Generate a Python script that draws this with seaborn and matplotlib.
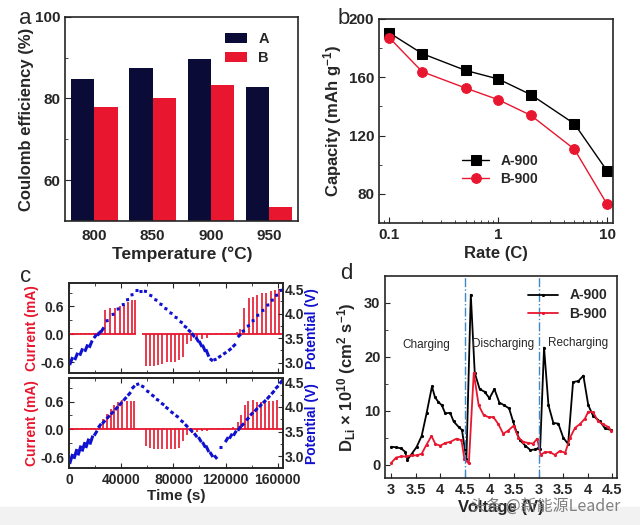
import numpy as np
import pandas as pd
import matplotlib
matplotlib.use("Agg")
import matplotlib.pyplot as plt
import seaborn as sns
from matplotlib.ticker import MultipleLocator, FixedLocator

sns.set_style("ticks")
plt.rcParams["font.family"] = ["Liberation Sans", "DejaVu Sans"]
plt.rcParams["font.weight"] = "bold"
plt.rcParams["axes.labelweight"] = "bold"
plt.rcParams["mathtext.default"] = "regular"
plt.rcParams["axes.linewidth"] = 1.2
plt.rcParams["xtick.direction"] = "in"
plt.rcParams["ytick.direction"] = "in"

NAVY = "#0b0b38"
RED = "#e8162e"
BLUE = "#1010d0"

# ---- panel a: coulomb efficiency ----
temps = ["800", "850", "900", "950"]
ce_A = [84.7, 87.5, 89.7, 82.7]
ce_B = [78.0, 80.0, 83.3, 53.5]

# ---- panel b: rate capability ----
rates = [0.1, 0.2, 0.5, 1, 2, 5, 10]
cap_A = [190.4, 176.2, 164.7, 158.8, 148.0, 128.1, 95.8]
cap_B = [187.0, 163.8, 152.6, 144.6, 133.8, 110.7, 72.9]

# ---- panel c: current pulses and potential steps ----
top_pulse_t = [2600, 5900, 9000, 12100, 15500, 19400, 21900, 24500,
               27900, 31500, 35300, 38700, 41800, 45200, 48200, 50800,
               59000, 62100, 65200, 68500, 71500, 74900, 78200, 81300, 84300, 87200,
               90400, 93500, 97900, 101700, 105500, 109000, 113000, 117000, 121000, 125000,
               128500, 131000, 134200, 138000, 141100, 144500, 147800, 151400, 154800, 157900, 161300]
top_pulse_i = [0.02, 0.02, 0.02, 0.02, 0.02, 0.03, 0.05, 0.1,
               0.53, 0.56, 0.56, 0.6, 0.63, 0.7, 0.73, 0.75,
               -0.68, -0.68, -0.68, -0.66, -0.64, -0.6, -0.6, -0.6, -0.56, -0.49,
               -0.2, -0.15, -0.12, -0.1, -0.08, -0.02, 0.02, 0.02, 0.02, 0.02,
               0.05, 0.12, 0.56, 0.78, 0.81, 0.85, 0.88, 0.9, 0.93, 0.95, 0.97]
top_base = [(0, 51600), (56200, 164000)]
top_dash_t = [400, 4300, 8100, 12000, 15400, 19000, 21800, 24400, 28000, 32600,
              36500, 40400, 43700, 47100, 50200, 53800, 57400, 61500, 65400, 69300,
              73100, 77000, 80900, 84800, 88100, 91200, 94000, 97100, 99700, 102300,
              104900, 108000, 110800, 114400, 118300, 122200, 125500, 129400, 132500, 136400,
              140000, 143600, 147500, 151300, 154700, 158000, 161600]
top_dash_v0 = [2.95, 3.05, 3.14, 3.22, 3.30, 3.50, 3.55, 3.62, 3.85, 3.98,
               4.09, 4.18, 4.28, 4.38, 4.48, 4.47, 4.46, 4.38, 4.29, 4.20,
               4.11, 4.02, 3.93, 3.84, 3.75, 3.67, 3.60, 3.52, 3.44, 3.36,
               3.27, 3.08, 3.05, 3.10, 3.17, 3.24, 3.32, 3.52, 3.63, 3.74,
               3.85, 3.96, 4.06, 4.17, 4.27, 4.37, 4.47]
top_dash_v1 = [3.11, 3.20, 3.29, 3.37, 3.45, 3.58, 3.64, 3.72, 3.86, 3.99,
               4.10, 4.19, 4.29, 4.39, 4.48, 4.47, 4.45, 4.36, 4.27, 4.18,
               4.09, 4.00, 3.91, 3.81, 3.71, 3.62, 3.52, 3.42, 3.32, 3.22,
               3.12, 3.03, 3.07, 3.14, 3.21, 3.29, 3.38, 3.58, 3.66, 3.76,
               3.86, 3.97, 4.07, 4.18, 4.28, 4.38, 4.48]

bot_pulse_t = [2500, 6000, 9500, 13000, 16500, 20000, 23800, 26300, 28900, 31900,
               34700, 37800, 40900, 44200, 47300, 50100,
               59000, 62100, 65200, 68500, 71500, 74900, 78200, 81300, 84300, 87200,
               90500, 94000, 98000, 102000, 106000, 110000, 114000, 118000, 122000, 126000,
               129500, 132200, 134900, 137500, 140800, 143900, 147200, 150300, 153600, 156600, 159700]
bot_pulse_i = [0.02, 0.02, 0.02, 0.02, 0.02, 0.03, 0.12, 0.23, 0.33, 0.44,
               0.52, 0.58, 0.64, 0.61, 0.61, 0.61,
               -0.37, -0.41, -0.43, -0.43, -0.43, -0.43, -0.43, -0.43, -0.4, -0.25,
               -0.12, -0.08, -0.05, -0.04, -0.03, 0.02, 0.02, 0.02, 0.02, 0.05,
               0.15, 0.3, 0.53, 0.61, 0.64, 0.6, 0.6, 0.6, 0.61, 0.62, 0.64]
bot_base = [(0, 164000)]
bot_dash_t = [400, 3700, 6800, 9900, 12800, 15900, 19200, 22300, 25400, 28800,
              31900, 35200, 38300, 41700, 45000, 48100, 51500, 55300, 59200, 63100,
              66700, 70600, 73900, 77800, 81700, 85500, 88900, 92500, 95900, 99200,
              102300, 104900, 108000, 111300, 115200, 119800, 122900, 126000, 129400, 132000,
              135800, 138900, 142300, 145600, 148700, 151800, 155200, 158300, 161600]
bot_dash_v0 = [2.85, 2.95, 3.02, 3.10, 3.17, 3.24, 3.42, 3.58, 3.66, 3.76,
               3.85, 3.94, 4.03, 4.13, 4.23, 4.37, 4.45, 4.43, 4.33, 4.25,
               4.16, 4.08, 4.00, 3.91, 3.83, 3.73, 3.65, 3.56, 3.47, 3.39,
               3.29, 3.22, 3.09, 3.02, 3.20, 3.29, 3.36, 3.42, 3.52, 3.61,
               3.73, 3.83, 3.91, 4.00, 4.08, 4.16, 4.26, 4.37, 4.47]
bot_dash_v1 = [3.05, 3.15, 3.22, 3.29, 3.36, 3.42, 3.52, 3.66, 3.73, 3.83,
               3.91, 4.01, 4.10, 4.20, 4.30, 4.43, 4.47, 4.40, 4.30, 4.21,
               4.13, 4.04, 3.96, 3.87, 3.79, 3.69, 3.59, 3.49, 3.39, 3.29,
               3.18, 3.09, 2.99, 2.95, 3.20, 3.39, 3.46, 3.52, 3.61, 3.67,
               3.79, 3.89, 3.98, 4.06, 4.14, 4.23, 4.33, 4.43, 4.55]
time_ticks = [0, 40000, 80000, 120000, 160000]

# ---- panel d: Li diffusion coefficient ----
chg_v_A = [3.0, 3.1, 3.2, 3.28, 3.33, 3.42, 3.52, 3.62, 3.72, 3.83, 3.89, 3.96, 4.03, 4.1, 4.2, 4.27, 4.37, 4.44]
chg_d_A = [3.3, 3.2, 3.0, 2.4, 0.9, 2.0, 3.3, 5.3, 9.5, 14.5, 12.5, 11.6, 11.0, 9.5, 9.6, 8.0, 7.0, 6.4]
dis_v_A = [4.47, 4.38, 4.3, 4.2, 4.1, 4.0, 3.9, 3.8, 3.7, 3.6, 3.52, 3.45, 3.38, 3.27, 3.17, 3.07, 3.02]
dis_d_A = [1.0, 31.5, 17.0, 14.0, 13.5, 12.3, 14.0, 11.5, 11.0, 10.4, 8.0, 6.0, 4.5, 3.5, 2.7, 2.8, 3.0]
rec_v_A = [3.03, 3.11, 3.2, 3.3, 3.4, 3.5, 3.6, 3.7, 3.81, 3.91, 4.01, 4.11, 4.25, 4.35, 4.48]
rec_d_A = [2.8, 21.7, 11.0, 7.7, 7.6, 5.0, 3.8, 15.3, 15.5, 16.5, 11.0, 9.0, 8.0, 6.7, 6.4]

chg_v_B = [3.0, 3.1, 3.2, 3.3, 3.42, 3.52, 3.62, 3.72, 3.82, 3.9, 4.0, 4.1, 4.2, 4.33, 4.43, 4.49]
chg_d_B = [0.3, 1.3, 1.5, 1.5, 1.7, 1.7, 2.0, 3.7, 5.3, 3.8, 3.5, 4.0, 4.2, 4.8, 4.5, 1.0]
dis_v_B = [4.42, 4.32, 4.22, 4.12, 4.02, 3.92, 3.82, 3.72, 3.62, 3.51, 3.41, 3.31, 3.21, 3.11, 3.03]
dis_d_B = [0.2, 17.0, 11.0, 9.2, 8.8, 8.8, 7.5, 5.7, 6.3, 7.2, 5.0, 4.2, 4.0, 3.9, 4.8]
rec_v_B = [3.04, 3.13, 3.23, 3.33, 3.43, 3.54, 3.64, 3.74, 3.84, 3.94, 4.01, 4.11, 4.21, 4.31, 4.41, 4.48]
rec_d_B = [1.8, 2.3, 2.3, 1.8, 2.5, 2.2, 5.0, 6.8, 7.5, 8.5, 9.8, 9.7, 8.0, 7.5, 7.0, 6.3]

d_tick_labels = ["3", "3.5", "4", "4.5", "4", "3.5", "3", "3.5", "4", "4.5"]

fig = plt.figure(figsize=(6.4, 5.25), dpi=100)
fig.patches.append(plt.Rectangle((0, 0), 1, 0.034, transform=fig.transFigure,
                                 color="#f2f2f2", zorder=-10))

# ================= a =================
ax = fig.add_axes([0.102, 0.579, 0.364, 0.389])
dfa = pd.DataFrame({"temp": temps * 2, "ce": ce_A + ce_B,
                    "sample": ["A"] * 4 + ["B"] * 4})
sns.barplot(data=dfa, x="temp", y="ce", hue="sample", palette=[NAVY, RED],
            saturation=1, width=0.8, ax=ax, linewidth=0)
ax.set_ylim(50, 100)
ax.set_xlim(-0.5, 3.5)
ax.yaxis.set_major_locator(FixedLocator([60, 80, 100]))
ax.yaxis.set_minor_locator(FixedLocator([70, 90]))
ax.tick_params(axis="x", length=0, labelsize=11, pad=6)
ax.tick_params(axis="y", labelsize=11, length=4)
ax.tick_params(axis="y", which="minor", length=2.5)
ax.set_xlabel("Temperature (\u00b0C)", fontsize=12.5, labelpad=2)
ax.set_ylabel("Coulomb efficiency (%)", fontsize=12, labelpad=1)
ax.legend(frameon=False, loc="upper right", bbox_to_anchor=(0.93, 0.99),
          handlelength=1.5, handleheight=0.7, labelspacing=0.35, fontsize=10.5)
fig.text(0.03, 0.955, "a", fontsize=16, fontweight="normal")

# ================= b =================
ax = fig.add_axes([0.592, 0.575, 0.366, 0.389])
dfb = pd.DataFrame({"rate": rates * 2, "cap": cap_A + cap_B,
                    "sample": ["A-900"] * 7 + ["B-900"] * 7})
sns.lineplot(data=dfb[dfb["sample"] == "A-900"], x="rate", y="cap", color="black",
             marker="s", markersize=6.5, mec="black", lw=1, ax=ax, label="A-900")
sns.lineplot(data=dfb[dfb["sample"] == "B-900"], x="rate", y="cap", color=RED,
             marker="o", markersize=7, mec=RED, lw=1, ax=ax, label="B-900")
ax.set_xscale("log")
ax.set_xlim(0.08, 11.35)
ax.set_ylim(60, 200)
ax.set_xticks([0.1, 1, 10])
ax.set_xticklabels(["0.1", "1", "10"])
ax.set_yticks([80, 120, 160, 200])
ax.yaxis.set_minor_locator(FixedLocator([100, 140, 180]))
ax.tick_params(labelsize=11, length=4)
ax.tick_params(which="minor", length=2.5)
ax.set_xlabel("Rate (C)", fontsize=12, labelpad=3)
ax.set_ylabel("Capacity (mAh g$^{-1}$)", fontsize=12, labelpad=3)
ax.legend(frameon=False, loc="upper left", bbox_to_anchor=(0.3, 0.4),
          handlelength=2.0, labelspacing=0.3, fontsize=10)
fig.text(0.527, 0.955, "b", fontsize=16, fontweight="normal")


# ================= c =================
def gitt_panel(rect, pulse_t, pulse_i, base, dash_t, dash_v0, dash_v1, vlim, last):
    ax = fig.add_axes(rect)
    for t0, t1 in base:
        ax.hlines(0, t0, t1, color=RED, lw=1.3)
    ax.vlines(pulse_t, 0, pulse_i, color=RED, lw=1.2)
    ax.set_xlim(0, 164000)
    ax.set_ylim(-0.84, 1.1)
    ax.set_yticks([-0.6, 0.0, 0.6])
    ax.set_yticklabels(["-0.6", "0.0", "0.6"])
    ax.yaxis.set_minor_locator(FixedLocator([-0.3, 0.3, 0.9]))
    ax.set_xticks(time_ticks)
    ax.xaxis.set_minor_locator(MultipleLocator(20000))
    ax.tick_params(labelsize=10, length=3.5, top=True, which="both")
    ax.tick_params(which="minor", length=2)
    ax.set_ylabel("Current (mA)", color=RED, fontsize=10, labelpad=1)
    if last:
        ax.set_xticklabels([str(t) for t in time_ticks])
        ax.set_xlabel("Time (s)", fontsize=11, labelpad=1)
    else:
        ax.tick_params(labelbottom=False)

    ax2 = ax.twinx()
    rows = []
    for k, (t, v0, v1) in enumerate(zip(dash_t, dash_v0, dash_v1)):
        rows.append({"t": t, "V": v0, "dash": k})
        rows.append({"t": t + 2300, "V": v1, "dash": k})
    dfc = pd.DataFrame(rows)
    sns.lineplot(data=dfc, x="t", y="V", units="dash", estimator=None,
                 color=BLUE, lw=2.2, solid_capstyle="butt", ax=ax2)
    ax2.set_ylim(*vlim)
    ax2.set_yticks([3.0, 3.5, 4.0, 4.5])
    ax2.set_yticklabels(["3.0", "3.5", "4.0", "4.5"])
    ax2.yaxis.set_minor_locator(FixedLocator([3.25, 3.75, 4.25]))
    ax2.tick_params(labelsize=10, length=3.5, pad=1)
    ax2.tick_params(which="minor", length=2)
    ax2.set_ylabel("Potential (V)", color=BLUE, fontsize=10, labelpad=1)
    ax2.set_xlim(0, 164000)
    return ax


gitt_panel([0.108, 0.289, 0.334, 0.1714], top_pulse_t, top_pulse_i, top_base,
           top_dash_t, top_dash_v0, top_dash_v1, (2.78, 4.62), False)
gitt_panel([0.108, 0.108, 0.334, 0.1714], bot_pulse_t, bot_pulse_i, bot_base,
           bot_dash_t, bot_dash_v0, bot_dash_v1, (2.76, 4.58), True)
fig.text(0.032, 0.462, "c", fontsize=16, fontweight="normal")

# ================= d =================
ax = fig.add_axes([0.602, 0.0895, 0.3625, 0.385])
seg_start = {"chg": 0.0, "dis": 1.5, "rec": 3.0}


def to_pos(seg, volts):
    # lay the three sweeps side by side on one axis
    if seg == "dis":
        return [seg_start[seg] + (4.5 - v) for v in volts]
    return [seg_start[seg] + (v - 3.0) for v in volts]


pos_A = to_pos("chg", chg_v_A) + to_pos("dis", dis_v_A) + to_pos("rec", rec_v_A)
pos_B = to_pos("chg", chg_v_B) + to_pos("dis", dis_v_B) + to_pos("rec", rec_v_B)
dfd_A = pd.DataFrame({"pos": pos_A, "D": chg_d_A + dis_d_A + rec_d_A})
dfd_B = pd.DataFrame({"pos": pos_B, "D": chg_d_B + dis_d_B + rec_d_B})
sns.lineplot(data=dfd_A, x="pos", y="D", sort=False, estimator=None, color="black",
             lw=1.3, marker="o", markersize=1.5, mec="black", ax=ax, label="A-900")
sns.lineplot(data=dfd_B, x="pos", y="D", sort=False, estimator=None, color=RED,
             lw=1.3, marker="o", markersize=1.5, mec=RED, ax=ax, label="B-900")
for s in (1.5, 3.0):
    ax.axvline(s, color="#3f88c5", lw=1, ls="-.")
ax.set_xlim(-0.12, 4.6)
ax.set_ylim(-2.5, 35)
ax.set_xticks([0.5 * k for k in range(len(d_tick_labels))])
ax.set_xticklabels(d_tick_labels)
ax.yaxis.set_major_locator(FixedLocator([0, 10, 20, 30]))
ax.yaxis.set_minor_locator(FixedLocator([5, 15, 25]))
ax.tick_params(labelsize=10.5, length=3.5)
ax.tick_params(which="minor", length=2)
ax.set_xlabel("Voltage (V)", fontsize=12, labelpad=2)
ax.set_ylabel("D$_{Li}$ \u00d7 10$^{10}$ (cm$^{2}$ s$^{-1}$)", fontsize=12, labelpad=4)
ax.text(0.72, 22.2, "Charging", fontsize=8.5, fontweight="normal", ha="center", va="center")
ax.text(2.27, 22.4, "Discharging", fontsize=8.5, fontweight="normal", ha="center", va="center")
ax.text(3.8, 22.6, "Recharging", fontsize=8.5, fontweight="normal", ha="center", va="center")
ax.legend(frameon=False, loc="upper right", bbox_to_anchor=(1.01, 1.0),
          handlelength=2.2, labelspacing=0.3, fontsize=10)
fig.text(0.532, 0.468, "d", fontsize=16, fontweight="normal")

fig.text(0.735, 0.028, "\u5934\u6761 @\u65b0\u80fd\u6e90Leader", fontsize=11.5,
         color="#808080", fontweight="normal",
         family=["Noto Sans CJK SC", "DejaVu Sans"])

fig.savefig("out.png", dpi=100)
